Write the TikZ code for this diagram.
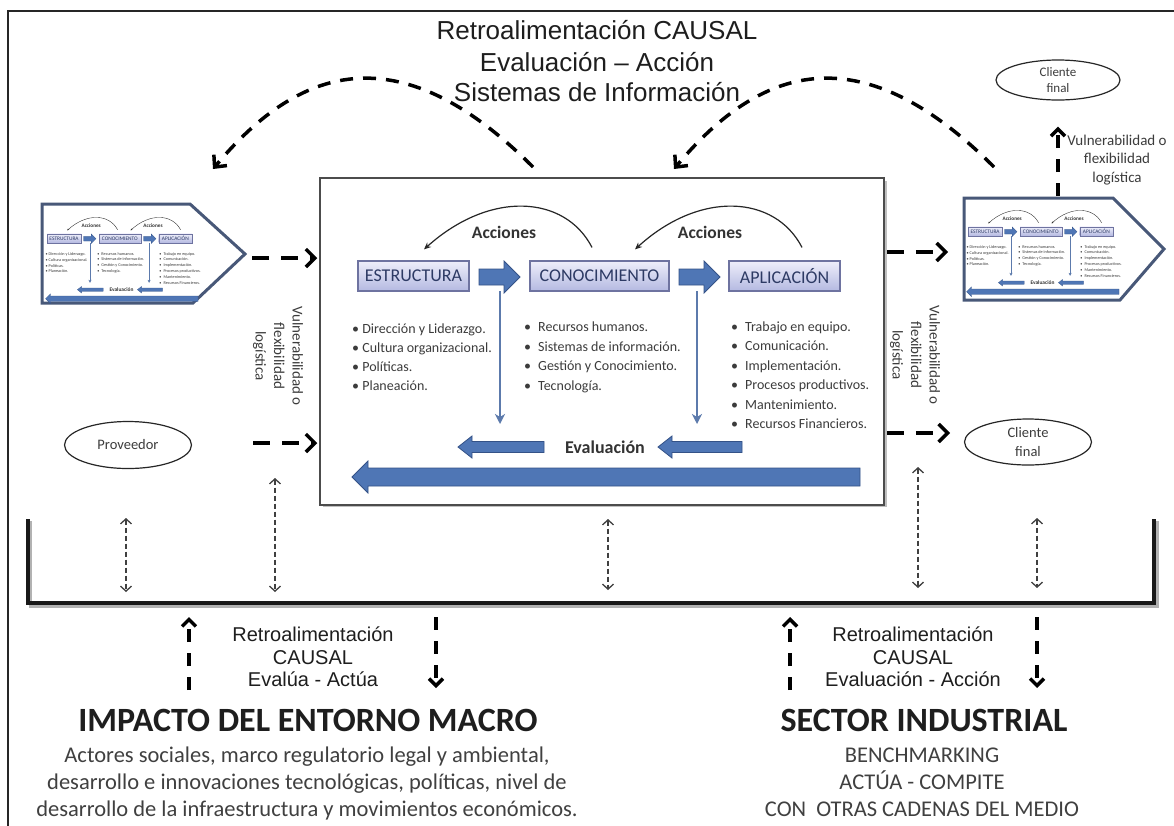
\documentclass[tikz,border=0pt]{standalone}
\usepackage{fontspec}
\setmainfont{Liberation Sans}
\newfontfamily\calib{Carlito}
\usetikzlibrary{arrows.meta,shapes.geometric}
\definecolor{barrow}{RGB}{79,118,181}
\definecolor{barrowd}{RGB}{52,82,135}
\definecolor{vline}{RGB}{92,122,172}
\definecolor{lblfg}{RGB}{45,58,100}
\definecolor{lbldraw}{RGB}{110,115,160}
\definecolor{lbltop}{RGB}{238,238,250}
\definecolor{lblbot}{RGB}{180,185,225}
\definecolor{pentc}{RGB}{72,88,120}
\definecolor{txtg}{RGB}{60,60,60}
\definecolor{txtd}{RGB}{30,30,30}

\newcommand\centercontent[1]{%
  \node[lbl, minimum width=111pt] (#1est) at (413.5,276) {ESTRUCTURA};
  \node[lbl, minimum width=139pt] (#1con) at (599.5,276) {CONOCIMIENTO};
  \node[lbl, minimum width=111pt] (#1apl) at (784.5,276) {APLICACIÓN};
  \path[blk] (479,269) -- (504,269) -- (504,261) -- (520,277) -- (504,293) -- (504,285) -- (479,285) -- cycle;
  \path[blk] (679,269) -- (704,269) -- (704,261) -- (720,277) -- (704,293) -- (704,285) -- (679,285) -- cycle;
  \draw[act] ([shift={(-7.5,-13)}]#1con.north) .. controls (565,195) and (490,190) .. ([shift={(10.5,-11)}]#1est.north);
  \draw[act] ([shift={(17.5,-13)}]#1apl.north) .. controls (775,195) and (700,190) .. ([shift={(35.5,-11)}]#1con.north);
  \node[accl] (#1ac1) at (504,238) {Acciones};
  \node[accl] (#1ac2) at (710,238) {Acciones};
  \coordinate (#1v1s) at (500,291); \coordinate (#1v1e) at (500,424);
  \coordinate (#1v2s) at (697,291); \coordinate (#1v2e) at (697,424);
  \draw[varr] (#1v1s) -- (#1v1e);
  \draw[varr] (#1v2s) -- (#1v2e);
  \foreach \t [count=\i] in {Dirección y Liderazgo.,Cultura organizacional.,Políticas.,Planeación.}
    \node[bul] (#1a\i) at (352,{333.5+19*(\i-1)}) {•~\t};
  \foreach \t [count=\i] in {Recursos humanos.,Sistemas de información.,Gestión y Conocimiento.,Tecnología.}
    \node[bul] (#1b\i) at (524,{331.5+19.5*(\i-1)}) {•\hspace{7pt}\t};
  \foreach \t [count=\i] in {Trabajo en equipo.,Comunicación.,Implementación.,Procesos productivos.,Mantenimiento.,Recursos Financieros.}
    \node[bul] (#1c\i) at (731,{331.5+19.4*(\i-1)}) {•\hspace{7pt}\t};
  \path[blk] (544,441.5) -- (472,441.5) -- (472,436) -- (458,447) -- (472,458) -- (472,452.5) -- (544,452.5) -- cycle;
  \path[blk] (742,441.5) -- (672,441.5) -- (672,436) -- (658,447) -- (672,458) -- (672,452.5) -- (742,452.5) -- cycle;
  \node[evl] (#1ev) at (605,453) {Evaluación};
  \path[blk] (860,468) -- (368,468) -- (368,461) -- (352,477) -- (368,493) -- (368,486) -- (860,486) -- cycle;
}

\begin{document}
\begin{tikzpicture}[x=1pt,y=-1pt,
  lbl/.style={draw=lbldraw, line width=1.2pt, top color=lbltop, bottom color=lblbot,
    minimum height=30pt, inner sep=0pt, font=\calib\fontsize{18}{20}\selectfont, text=lblfg},
  blk/.style={fill=barrow, draw=barrowd, line width=0.8pt},
  act/.style={line width=1.2pt, draw=black!85, -{Stealth[length=7pt,width=6pt]}},
  accl/.style={font=\calib\bfseries\fontsize{17.5}{20}\selectfont, text=black!80, inner sep=0pt, anchor=base},
  varr/.style={line width=2pt, draw=vline, -{Stealth[length=10pt,width=10pt,inset=3pt]}},
  bul/.style={font=\calib\fontsize{14}{17}\selectfont, text=txtg, inner sep=0pt, anchor=base west},
  evl/.style={font=\calib\bfseries\fontsize{18}{20}\selectfont, text=black!80, inner sep=0pt, anchor=base},
  ttl/.style={font=\fontsize{26}{31}\selectfont, text=txtd, inner sep=0pt, anchor=base},
  sml/.style={font=\fontsize{20}{23}\selectfont, text=txtd, inner sep=0pt, anchor=base},
  bigt/.style={font=\calib\bfseries\fontsize{34}{38}\selectfont, text=txtd, inner sep=0pt, anchor=base},
  desc/.style={font=\calib\fontsize{22.5}{27}\selectfont, text=txtd!85, inner sep=0pt, anchor=base},
  side/.style={font=\calib\fontsize{15}{18.5}\selectfont, text=txtg, inner sep=0pt, align=center},
  ell/.style={ellipse, draw=black!85, line width=1.2pt, inner sep=0pt, align=center, text=txtg,
    font=\calib\fontsize{14.5}{19}\selectfont},
  pent/.style={draw=pentc, line width=3pt, fill=white, line join=miter},
  hdash/.style={line width=3.5pt, dash pattern=on 17pt off 12pt, -{Straight Barb[length=9pt,width=18pt]}},
  adash/.style={line width=3.5pt, dash pattern=on 13pt off 10pt, -{Straight Barb[length=9pt,width=17pt]}},
  vdash/.style={line width=3.5pt, dash pattern=on 13pt off 11pt, -{Straight Barb[length=7pt,width=14pt]}},
  tdash/.style={line width=1.3pt, draw=black!75, dash pattern=on 5pt off 3pt,
    {Straight Barb[length=5pt,width=11pt]}-{Straight Barb[length=5pt,width=11pt]}}
]
\useasboundingbox (0,0) rectangle (1174,825);
\fill[white] (0,0) rectangle (1174,825);
% outer frame
\draw[line width=1.5pt, black!85] (8,826) -- (8,11) -- (1175,11);

% title
\node[ttl] (t1) at (597,39.5) {Retroalimentación CAUSAL};
\node[ttl] (t2) at (597,71.5) {Evaluación – Acción};
\node[ttl] (t3) at (597,101.5) {Sistemas de Información};

% top dashed arcs
\coordinate (a1s) at (533,167); \coordinate (a1e) at (213,169);
\draw[adash] (a1s) .. controls (403,37) and (303,61) .. (a1e);
\coordinate (a2s) at (994,167); \coordinate (a2e) at (674,169);
\draw[adash] (a2s) .. controls (864,37) and (764,61) .. (a2e);

% pentagons
\draw[pent] (42,204) -- (190,204) -- (245,254) -- (193,303) -- (42,303) -- cycle;
\draw[pent] (964,198) -- (1113,198) -- (1164,249) -- (1120,300) -- (964,300) -- cycle;
\begin{scope}[transform canvas={shift={(-60,155.6)},scale=0.3}]
  \centercontent{L}
\end{scope}
\begin{scope}[transform canvas={shift={(861,148.6)},scale=0.3}]
  \centercontent{R}
\end{scope}

% center box
\draw[line width=2pt, black!25] (323,506) -- (886,506) -- (886,181);
\node[draw=black!70, line width=1.5pt, fill=white, minimum width=564pt, minimum height=327pt, inner sep=0pt] (cbox) at (602,341.5) {};
\centercontent{M}

% ellipses
\node[ell, minimum width=124pt, minimum height=40pt, font=\calib\fontsize{13}{16}\selectfont] (ctop) at (1058,80) {Cliente\\final};
\node[ell, minimum width=127pt, minimum height=47pt] (prov) at (128,445) {Proveedor};
\node[ell, minimum width=127pt, minimum height=46pt] (cfin) at (1028,442) {Cliente\\final};

% side texts
\node[side, rotate=-90] (vl) at (278,356) {Vulnerabilidad o\\flexibilidad\\logística};
\node[side, rotate=-90] (vr) at (915,355) {Vulnerabilidad o\\flexibilidad\\logística};
\node[side] (vt) at (1117,160) {Vulnerabilidad o\\flexibilidad\\logística};

% dashed horizontal arrows
\coordinate (lpOut) at (252,258);
\draw[hdash, shorten >=2pt] (lpOut) -- (lpOut -| cbox.west);
\coordinate (provOut) at (253,443);
\draw[hdash, shorten >=2pt] (provOut) -- (provOut -| cbox.west);
\coordinate (rIn1) at (948,252);
\draw[hdash, shorten <=2pt] (cbox.east |- rIn1) -- (rIn1);
\coordinate (rIn2) at (950,433);
\draw[hdash, shorten <=2pt] (cbox.east |- rIn2) -- (rIn2);

% up to top client
\coordinate (rpTop) at (1058,196);
\draw[vdash, shorten >=26pt] (rpTop) -- (ctop.south);

% bracket
\draw[line width=3pt, black!30] (30,521) -- (30,606) -- (1157,606) -- (1157,521);
\draw[line width=3.5pt, black!90] (28,519) -- (28,603) -- (1154,603) -- (1154,519);

% thin double arrows
\coordinate (d1a) at (126,518); \coordinate (d1b) at (126,592);
\coordinate (d2a) at (275,478); \coordinate (d2b) at (275,592);
\coordinate (d3a) at (608,519); \coordinate (d3b) at (608,590);
\coordinate (d4a) at (918,467); \coordinate (d4b) at (918,588);
\coordinate (d5a) at (1037,518); \coordinate (d5b) at (1037,588);
\draw[tdash] (d1a) -- (d1b);
\draw[tdash] (d2a) -- (d2b);
\draw[tdash] (d3a) -- (d3b);
\draw[tdash] (d4a) -- (d4b);
\draw[tdash] (d5a) -- (d5b);

% bottom thick dashed arrows
\coordinate (u1a) at (189,690); \coordinate (u1b) at (189,617);
\coordinate (w1a) at (436,617); \coordinate (w1b) at (436,688);
\coordinate (u2a) at (790,690); \coordinate (u2b) at (790,617);
\coordinate (w2a) at (1037,617); \coordinate (w2b) at (1037,688);
\draw[vdash] (u1a) -- (u1b);
\draw[vdash] (w1a) -- (w1b);
\draw[vdash] (u2a) -- (u2b);
\draw[vdash] (w2a) -- (w2b);

% bottom texts
\node[sml] (bl1) at (313,641) {Retroalimentación};
\node[sml] (bl2) at (313,664) {CAUSAL};
\node[sml] (bl3) at (313,686) {Evalúa - Actúa};
\node[sml] (br1) at (913,641) {Retroalimentación};
\node[sml] (br2) at (913,664) {CAUSAL};
\node[sml] (br3) at (913,686) {Evaluación - Acción};

\node[bigt] (imp) at (308,731.5) {IMPACTO DEL ENTORNO MACRO};
\node[bigt] (sec) at (924,731.5) {SECTOR INDUSTRIAL};

\node[desc] (dl1) at (307,762.5) {Actores sociales, marco regulatorio legal y ambiental,};
\node[desc] (dl2) at (307,789.5) {desarrollo e innovaciones tecnológicas, políticas, nivel de};
\node[desc] (dl3) at (307,816.5) {desarrollo de la infraestructura y movimientos económicos.};
\node[desc] (dr1) at (922,762.5) {BENCHMARKING};
\node[desc] (dr2) at (922,789.5) {ACTÚA - COMPITE};
\node[desc] (dr3) at (922,816.5) {CON\ \ OTRAS CADENAS DEL MEDIO};
\end{tikzpicture}
\end{document}
